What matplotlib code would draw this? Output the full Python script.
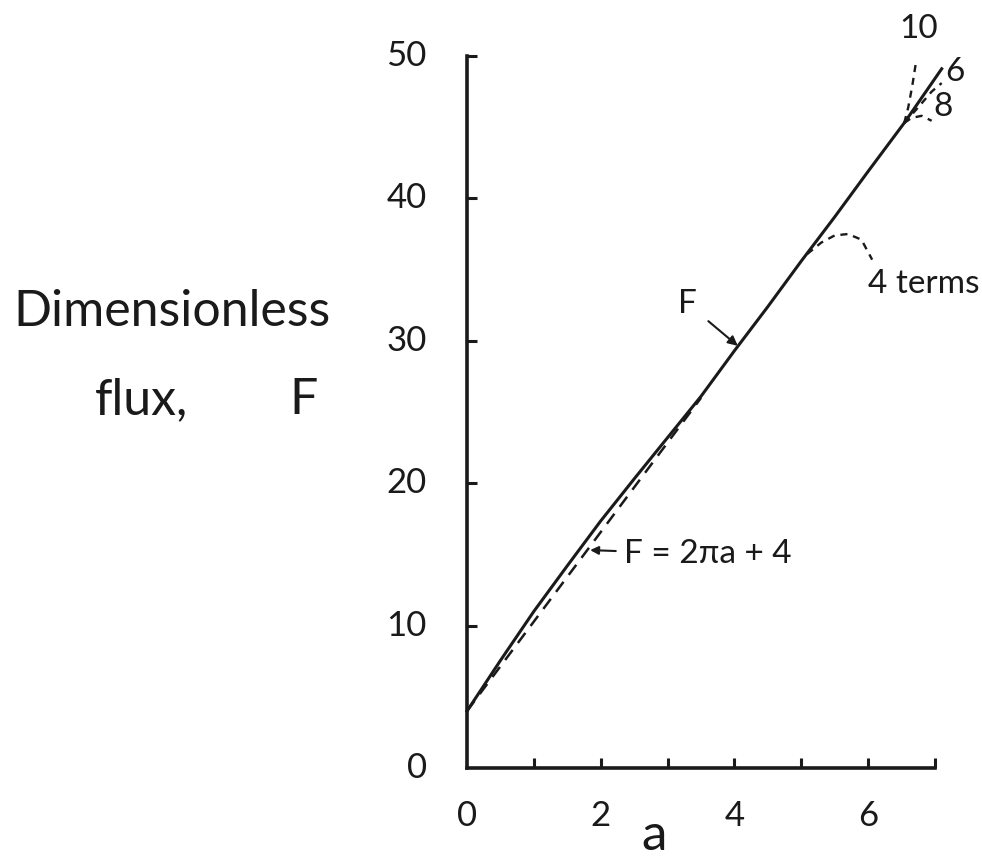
import numpy as np
import matplotlib
matplotlib.use("Agg")
import matplotlib.pyplot as plt

plt.rcParams['font.family'] = ['Lato', 'DejaVu Sans']
plt.rcParams['font.weight'] = 'normal'

# Dimensionless flux F against a
a_vals = [0.0, 0.5, 1.0, 1.5, 2.0, 2.5, 3.0, 3.5, 4.0, 4.5, 5.0, 5.5, 6.0, 6.54, 7.1]
F_vals = [4.0, 7.55, 11.0, 14.2, 17.35, 20.3, 23.2, 26.1, 29.3, 32.4, 35.6, 38.7, 41.9, 45.3, 49.1]

# Asymptote F = 2*pi*a + 4 (drawn up to a = 3.5)
asym_a = [0.0, 3.5]

# Truncated series approximations
a_4terms = [5.09, 5.3, 5.5, 5.7, 5.9, 6.06]
F_4terms = [36.1, 36.9, 37.4, 37.5, 37.1, 35.7]
a_6terms = [6.54, 6.75, 6.95, 7.1]
F_6terms = [45.3, 46.4, 47.5, 48.1]
a_8terms = [6.54, 6.65, 6.8, 6.95]
F_8terms = [45.3, 45.65, 45.8, 45.45]
a_10terms = [6.54, 6.6, 6.66, 6.72]
F_10terms = [45.3, 46.4, 47.9, 49.7]

x_ticks = [1, 2, 3, 4, 5, 6, 7]
x_label_pos = [0, 2, 4, 6]
x_labels = ['0', '2', '4', '6']
y_ticks = [0, 10, 20, 30, 40, 50]

INK = '#1a1a1a'

fig = plt.figure(figsize=(9.82, 8.63), dpi=100)
ax = fig.add_axes([467/982, 1-768/863, (935-467)/982, (768-56)/863])
ax.set_xlim(0, 7)
ax.set_ylim(0, 50)

for s in ['top', 'right']:
    ax.spines[s].set_visible(False)
for s in ['left', 'bottom']:
    ax.spines[s].set_linewidth(2.6)
    ax.spines[s].set_color(INK)

ax.plot(a_vals, F_vals, color=INK, lw=2.2, clip_on=False)
asym_F = [2*np.pi*x + 4 for x in asym_a]
ax.plot(asym_a, asym_F, color=INK, lw=1.8, ls=(0, (5, 3.5)), clip_on=False)
for xa, yf in [(a_4terms, F_4terms), (a_6terms, F_6terms),
               (a_8terms, F_8terms), (a_10terms, F_10terms)]:
    ax.plot(xa, yf, color=INK, lw=1.7, ls=(0, (3, 2.5)), clip_on=False)

# ticks point inward; labels are placed as text
ax.set_xticks(x_ticks)
ax.set_xticklabels([])
ax.tick_params(axis='x', direction='in', length=7, width=2.2, color=INK)
for v, lab in zip(x_label_pos, x_labels):
    ax.text(v, -3.4, lab, ha='center', va='center', fontsize=25, color=INK,
            clip_on=False)
ax.set_yticks(y_ticks[1:])
ax.set_yticklabels([])
ax.tick_params(axis='y', direction='in', length=7, width=2.2, color=INK)
for v in y_ticks:
    ax.text(-0.6, v, str(v), ha='right', va='center', fontsize=25, color=INK,
            clip_on=False)

ax.text(2.8, -5.75, 'a', ha='center', va='baseline', fontsize=37, color=INK,
        clip_on=False)

fig.text(13/982, 1-312/863, 'Dimensionless', ha='left', va='center',
         fontsize=36, color=INK)
fig.text(95/982, 1-400/863, 'flux,', ha='left', va='center',
         fontsize=36, color=INK)
fig.text(318/982, 1-400/863, 'F', ha='right', va='center',
         fontsize=36, color=INK)

# annotations
ax.annotate('F', xy=(4.05, 2*np.pi*4.05 + 4.2), xytext=(3.3, 32.6),
            ha='center', va='center', fontsize=24, color=INK,
            arrowprops=dict(arrowstyle='-|>', color=INK, lw=1.5,
                            shrinkA=8, shrinkB=0, mutation_scale=14))
ax.annotate('F = 2πa + 4', xy=(1.8, 2*np.pi*1.8 + 4), xytext=(2.35, 15.0),
            ha='left', va='center', fontsize=24, color=INK,
            arrowprops=dict(arrowstyle='-|>', color=INK, lw=1.5,
                            shrinkA=4, shrinkB=2, mutation_scale=12))
ax.text(6.0, 34.0, '4 terms', ha='left', va='center', fontsize=24, color=INK)
ax.text(6.75, 51.9, '10', ha='center', va='center', fontsize=24, color=INK,
        clip_on=False)
ax.text(7.3, 48.9, '6', ha='center', va='center', fontsize=24, color=INK,
        clip_on=False)
ax.text(7.12, 46.4, '8', ha='center', va='center', fontsize=24, color=INK,
        clip_on=False)

fig.savefig('out.png', dpi=100, facecolor='white')
